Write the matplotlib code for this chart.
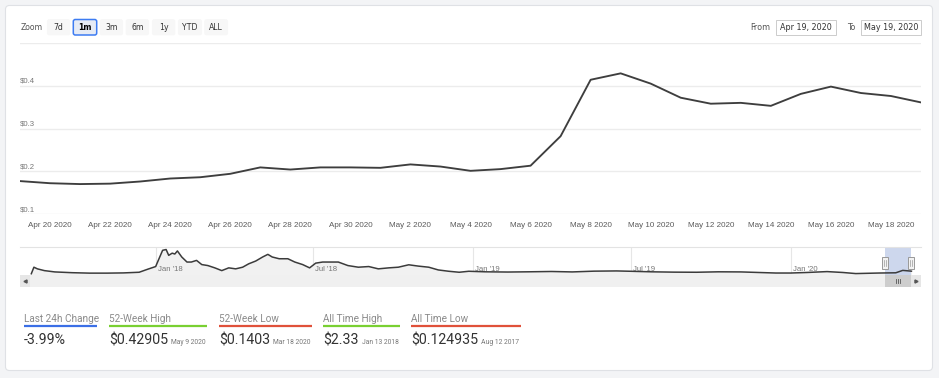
import matplotlib
matplotlib.use('Agg')
import matplotlib.pyplot as plt
import matplotlib.dates as mdates
import matplotlib.transforms as mtransforms
from matplotlib.patches import FancyBboxPatch, Rectangle
import pandas as pd

# ------------------------------------------------------------------ data
main_start = '2020-04-19'
main_values = [0.177, 0.172, 0.170, 0.171, 0.176, 0.183, 0.186, 0.194, 0.209, 0.204,
               0.209, 0.209, 0.208, 0.216, 0.211, 0.201, 0.205, 0.213, 0.282, 0.414,
               0.429, 0.405, 0.372, 0.358, 0.360, 0.353, 0.381, 0.398, 0.383, 0.376,
               0.361]
x_tick_dates = ['2020-04-20', '2020-04-22', '2020-04-24', '2020-04-26', '2020-04-28',
                '2020-04-30', '2020-05-02', '2020-05-04', '2020-05-06', '2020-05-08',
                '2020-05-10', '2020-05-12', '2020-05-14', '2020-05-16', '2020-05-18']
x_tick_labels = ['Apr 20 2020', 'Apr 22 2020', 'Apr 24 2020', 'Apr 26 2020', 'Apr 28 2020',
                 'Apr 30 2020', 'May 2 2020', 'May 4 2020', 'May 6 2020', 'May 8 2020',
                 'May 10 2020', 'May 12 2020', 'May 14 2020', 'May 16 2020', 'May 18 2020']
y_grid = [0.1, 0.2, 0.3, 0.4, 0.5]
y_labels = [0.1, 0.2, 0.3, 0.4]

nav_dates = ['2017-08-11', '2017-08-14', '2017-08-18', '2017-08-26', '2017-09-07',
             '2017-09-27', '2017-10-17', '2017-11-06', '2017-11-25', '2017-12-13',
             '2017-12-23', '2018-01-01', '2018-01-04', '2018-01-09', '2018-01-13',
             '2018-01-16', '2018-01-20', '2018-01-23', '2018-01-26', '2018-01-31',
             '2018-02-06', '2018-02-11', '2018-02-17', '2018-02-23', '2018-03-02',
             '2018-03-10', '2018-03-18', '2018-03-26', '2018-04-03', '2018-04-11',
             '2018-04-18', '2018-04-26', '2018-05-04', '2018-05-10', '2018-05-15',
             '2018-05-23', '2018-06-02', '2018-06-10', '2018-06-19', '2018-06-27',
             '2018-07-04', '2018-07-12', '2018-07-24', '2018-07-30', '2018-08-10',
             '2018-08-22', '2018-09-03', '2018-09-14', '2018-09-26', '2018-10-07',
             '2018-10-19', '2018-10-30', '2018-11-11', '2018-11-22', '2018-12-04',
             '2018-12-16', '2018-12-27', '2019-01-15', '2019-02-10', '2019-03-05',
             '2019-04-01', '2019-04-25', '2019-05-20', '2019-06-15', '2019-07-01',
             '2019-07-25', '2019-08-20', '2019-09-15', '2019-10-10', '2019-11-05',
             '2019-11-25', '2019-12-15', '2020-01-01', '2020-01-20', '2020-02-12',
             '2020-03-01', '2020-03-16', '2020-04-12', '2020-05-01', '2020-05-09',
             '2020-05-19']
nav_values = [0.125, 0.72, 0.57, 0.41, 0.29,
              0.22, 0.18, 0.18, 0.20, 0.26,
              0.54, 0.78, 1.34, 2.26, 2.33,
              1.80, 2.00, 1.92, 2.20, 1.65,
              1.19, 1.19, 1.34, 0.96, 0.87,
              0.66, 0.41, 0.66, 0.57, 0.72,
              1.03, 1.28, 1.65, 1.89, 1.65,
              1.49, 1.49, 1.19, 0.96, 0.66,
              1.09, 1.19, 1.19, 1.19, 0.87,
              0.72, 0.78, 0.57, 0.66, 0.72,
              0.94, 0.82, 0.72, 0.47, 0.35,
              0.26, 0.35, 0.30, 0.28, 0.30,
              0.33, 0.29, 0.36, 0.38, 0.35,
              0.30, 0.27, 0.26, 0.30, 0.29,
              0.24, 0.19, 0.19, 0.24, 0.32,
              0.24, 0.14, 0.19, 0.21, 0.43,
              0.36]
nav_tick_dates = ['2018-01-01', '2018-07-01', '2019-01-01', '2019-07-01', '2020-01-01']
nav_tick_labels = ["Jan '18", "Jul '18", "Jan '19", "Jul '19", "Jan '20"]

zoom_buttons = ['7d', '1m', '3m', '6m', '1y', 'YTD', 'ALL']
zoom_selected = '1m'
range_from = 'Apr 19, 2020'
range_to = 'May 19, 2020'

stat_labels = ['Last 24h Change', '52-Week High', '52-Week Low', 'All Time High', 'All Time Low']
stat_values = ['-3.99%', '$0.42905', '$0.1403', '$2.33', '$0.124935']
stat_dates = ['', 'May 9 2020', 'Mar 18 2020', 'Jan 13 2018', 'Aug 12 2017']
stat_colors = ['#3b6fe6', '#79d032', '#e0513a', '#79d032', '#e0513a']

# ------------------------------------------------------------------ layout
W, H = 939, 378
fig = plt.figure(figsize=(W / 100, H / 100), dpi=100)
fig.patch.set_facecolor('#f3f4f6')

bg = fig.add_axes([0, 0, 1, 1], zorder=0)
bg.set_xlim(0, W); bg.set_ylim(H, 0); bg.axis('off')
fg = fig.add_axes([0, 0, 1, 1], zorder=10)
fg.set_xlim(0, W); fg.set_ylim(H, 0); fg.axis('off')
fg.patch.set_alpha(0)


def px_axes(x0, y0, x1, y1, **kw):
    return fig.add_axes([x0 / W, 1 - y1 / H, (x1 - x0) / W, (y1 - y0) / H], **kw)


UI = 'DejaVu Sans'
AXF = 'Liberation Sans'
STF = 'Roboto'

# card
bg.add_patch(FancyBboxPatch((5.5, 5.5), 927, 365, boxstyle='round,pad=0,rounding_size=4',
                            fc='white', ec='#dfe1e5', lw=0.8))

# zoom buttons
bg.text(20.5, 27, 'Zoom', fontsize=5.6, color='#555', family=UI, va='center', ha='left')
btn_left = [47.3, 73.3, 100, 126, 152.3, 178.3, 204.7]
btn_w = [22.7, 23.4, 22.7, 22.7, 22.7, 23.4, 23.0]
for lbl, xl, bw in zip(zoom_buttons, btn_left, btn_w):
    sel = lbl == zoom_selected
    bg.add_patch(FancyBboxPatch((xl, 19.5), bw, 15.5,
                                boxstyle='round,pad=0,rounding_size=2',
                                fc='#e6ebf5' if sel else '#f7f7f7',
                                ec='#3d7cf2' if sel else '#f7f7f7',
                                lw=1.1 if sel else 0.5))
    bg.text(xl + bw / 2, 27.5, lbl, fontsize=5.6, color='#000' if sel else '#333',
            family=UI, ha='center', va='center', weight='bold' if sel else 'normal')

# range inputs
bg.text(770.5, 27, 'From', fontsize=5.8, color='#555', family=UI, ha='right', va='center')
bg.add_patch(Rectangle((776, 19.5), 60, 15, fc='white', ec='#cccccc', lw=0.7))
bg.text(806, 27, range_from, fontsize=5.8, color='#333', family=UI, ha='center', va='center')
bg.text(855.5, 27, 'To', fontsize=5.8, color='#555', family=UI, ha='right', va='center')
bg.add_patch(Rectangle((861, 19.5), 60, 15, fc='white', ec='#cccccc', lw=0.7))
bg.text(891, 27, range_to, fontsize=5.8, color='#333', family=UI, ha='center', va='center')

# ------------------------------------------------------------------ main chart
main_dates = pd.date_range(main_start, periods=len(main_values), freq='D')
ax = px_axes(20, 43, 921, 214, zorder=2)
ax.patch.set_alpha(0)
ax.plot(main_dates, main_values, color='#3e3e3e', lw=1.35, solid_joinstyle='round', zorder=3)
ax.set_xlim(main_dates[0], main_dates[-1])
ax.set_ylim(y_grid[0], y_grid[-1])
ax.set_yticks(y_grid)
ax.yaxis.grid(True, color='#ececec', lw=1.0)
ax.tick_params(axis='y', left=False, labelleft=False)
for s in ax.spines.values():
    s.set_visible(False)
ylab_tr = mtransforms.offset_copy(
    mtransforms.blended_transform_factory(ax.transAxes, ax.transData), fig=fig, y=0.6, units='points')
for v in y_labels:
    ax.text(0, v, f'${v:.1f}', transform=ylab_tr, fontsize=5.6, color='#777',
            family=AXF, ha='left', va='bottom')
ax.set_xticks(pd.to_datetime(x_tick_dates))
ax.set_xticklabels(x_tick_labels, fontsize=5.8, color='#5a5a5a', family=AXF)
ax.tick_params(axis='x', length=0, pad=5.5)

# ------------------------------------------------------------------ navigator
nav_d = pd.to_datetime(nav_dates)
nav = px_axes(20, 247, 921, 275, zorder=2)
nav.fill_between(nav_d, nav_values, 0, color='#f1f1f1', lw=0, zorder=1)
nav.plot(nav_d, nav_values, color='#3b3b3b', lw=1.1, zorder=3)
nav_x0, nav_x1 = pd.Timestamp('2017-07-29'), pd.Timestamp('2020-05-30')
nav.set_xlim(nav_x0, nav_x1)
nav.set_ylim(0.01, 2.56)
nav.set_xticks([]); nav.set_yticks([])
for k, s in nav.spines.items():
    s.set_visible(k == 'top')
nav.spines['top'].set_color('#e3e3e3')
for d, lbl in zip(pd.to_datetime(nav_tick_dates), nav_tick_labels):
    nav.axvline(d, color='#e6e6e6', lw=0.8, zorder=0.5)
    nav.text(d, 0.18, lbl, transform=mtransforms.offset_copy(
        mtransforms.blended_transform_factory(nav.transData, nav.transAxes), fig=fig, x=1.5, units='points'),
        fontsize=5.6, color='#777', family=AXF, ha='left', va='center', zorder=2)
sel0, sel1 = main_dates[0], main_dates[-1]
nav.axvspan(sel0, sel1, color='#c5d1ea', alpha=0.85, lw=0, zorder=2)

# scrollbar
scr = px_axes(20, 275, 921, 287, zorder=2)
scr.set_facecolor('#f0f0f0')
scr.set_xlim(nav_x0, nav_x1); scr.set_ylim(0, 1)
scr.set_xticks([]); scr.set_yticks([])
for s in scr.spines.values():
    s.set_visible(False)
scr.axvspan(sel0, sel1, color='#cdcdcd', lw=0)

fig.canvas.draw()


def date_px(d):
    return nav.transData.transform((mdates.date2num(d), 0))[0]


xs0, xs1 = date_px(sel0), date_px(sel1)
# arrow buttons
fg.add_patch(Rectangle((20, 275), 10, 12, fc='#e6e6e6', ec='none'))
fg.add_patch(Rectangle((911, 275), 10, 12, fc='#e6e6e6', ec='none'))
fg.plot([25], [281], marker='<', ms=2.2, color='#555', mec='#555')
fg.plot([916], [281], marker='>', ms=2.2, color='#555', mec='#555')
# rifles on thumb
xm = (xs0 + xs1) / 2
for dx in (-2, 0, 2):
    fg.plot([xm + dx, xm + dx], [279, 283], color='#555', lw=0.6)
# handles
for xh in (xs0, xs1):
    fg.add_patch(Rectangle((xh - 3, 257), 6, 12, fc='#f2f2f2', ec='#999999', lw=0.7))
    for dx in (-1, 1):
        fg.plot([xh + dx, xh + dx], [260, 266], color='#999999', lw=0.5)

# ------------------------------------------------------------------ stats
stat_x0 = [24, 109, 219, 323, 411]
stat_x1 = [97, 207, 312, 400, 521]
renderer = fig.canvas.get_renderer()
for lbl, val, dt, col, x0, x1 in zip(stat_labels, stat_values, stat_dates, stat_colors, stat_x0, stat_x1):
    bg.text(x0, 319, lbl, fontsize=7.2, color='#8a8a8a', family=STF, ha='left', va='center')
    bg.plot([x0, x1], [325.8, 325.8], color=col, lw=1.6, solid_capstyle='butt')
    t = bg.text(x0, 344, val, fontsize=10.2, color='#333', family=STF, ha='left', va='baseline')
    if dt:
        ext = t.get_window_extent(renderer)
        bg.text(ext.x1 + 3, 344, dt, fontsize=4.9, color='#777', family=STF,
                ha='left', va='baseline')

fig.savefig('out.png', dpi=100, facecolor=fig.get_facecolor())
